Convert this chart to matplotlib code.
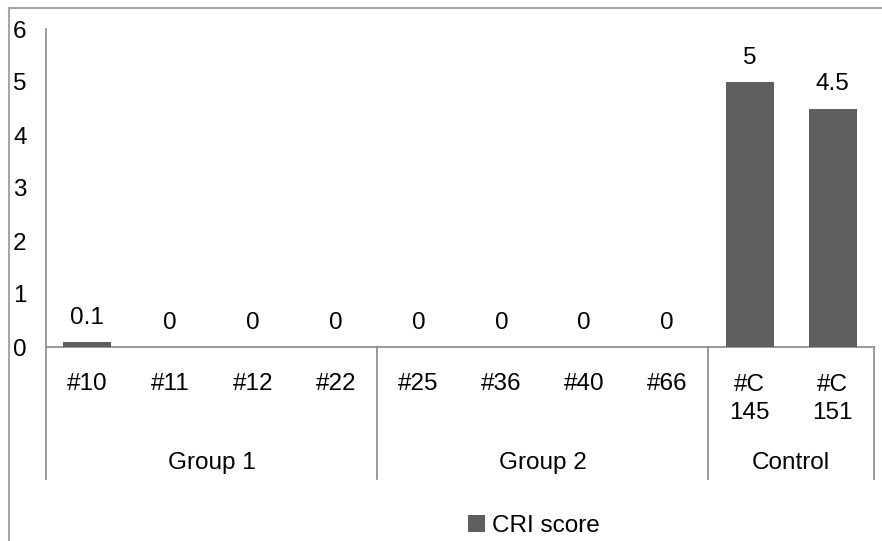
import matplotlib
matplotlib.use("Agg")
import matplotlib.pyplot as plt
from matplotlib.lines import Line2D

samples = ['#10', '#11', '#12', '#22', '#25', '#36', '#40', '#66', '#C\n145', '#C\n151']
scores = [0.1, 0, 0, 0, 0, 0, 0, 0, 5, 4.5]
score_labels = ['0.1', '0', '0', '0', '0', '0', '0', '0', '5', '4.5']
groups = ['Group 1', 'Group 2', 'Control']
group_sizes = [4, 4, 2]
yticks = [0, 1, 2, 3, 4, 5, 6]

plt.rcParams['font.family'] = ['Liberation Sans', 'DejaVu Sans']
FS = 17.5
BAR = '#5f5f5f'
AXC = '#878787'

W, H = 882, 541
fig = plt.figure(figsize=(W / 100, H / 100), dpi=100, facecolor='white')

# axes box in pixels: x 46..874, y (value 0) 347 .. (value 6) 29
x0, x1, y0, y1 = 46, 874, 347, 29
ax = fig.add_axes((x0 / W, 1 - y0 / H, (x1 - x0) / W, (y0 - y1) / H))

xs = list(range(len(samples)))
bars = ax.bar(xs, scores, width=0.58, color=BAR, label='CRI score', zorder=3)
ax.set_xlim(-0.5, len(samples) - 0.5)
ax.set_ylim(0, 6)

for s in ['top', 'right', 'left']:
    ax.spines[s].set_visible(False)
ax.spines['bottom'].set_color(AXC)
ax.spines['bottom'].set_linewidth(1.2)

ax.set_yticks(yticks)
ax.set_yticklabels([str(t) for t in yticks], fontsize=FS)
ax.tick_params(axis='y', length=0, pad=14)
ax.set_xticks([])

# data labels
for x, v, t in zip(xs, scores, score_labels):
    ax.annotate(t, xy=(x, v), xytext=(0, 24), textcoords='offset pixels',
                ha='center', va='center', fontsize=FS)

# category labels
for x, s in zip(xs, samples):
    off = -52 if '\n' in s else -37
    ax.annotate(s, xy=(x, 0), xycoords=('data', 'axes fraction'),
                xytext=(0, off), textcoords='offset pixels',
                ha='center', va='center', fontsize=FS, linespacing=1.38,
                annotation_clip=False)

# group labels and separators
bottom = -(479 - y0) / (y0 - y1)
trans = ax.get_xaxis_transform()
start = -0.5
ax.add_line(Line2D([start, start], [bottom, 1], transform=trans, color=AXC,
                   lw=1.2, clip_on=False))
for g, n in zip(groups, group_sizes):
    end = start + n
    ax.add_line(Line2D([end, end], [bottom, 0], transform=trans, color=AXC,
                       lw=1.2, clip_on=False))
    ax.annotate(g, xy=((start + end) / 2, 0), xycoords=('data', 'axes fraction'),
                xytext=(0, -116), textcoords='offset pixels',
                ha='center', va='center', fontsize=FS, annotation_clip=False)
    start = end

# legend
fig.legend(handles=[bars], labels=['CRI score'], loc='center',
           bbox_to_anchor=(534 / W, 1 - 526 / H), frameon=False, fontsize=FS,
           handlelength=0.7, handleheight=0.7, handletextpad=0.3)

# chart area frame (only top/left visible in the crop)
fig.add_artist(Line2D([9 / W, 1], [1 - 7.5 / H, 1 - 7.5 / H], transform=fig.transFigure,
                      color='#a6a6a6', lw=1.5))
fig.add_artist(Line2D([9 / W, 9 / W], [0, 1 - 7.5 / H], transform=fig.transFigure,
                      color='#a6a6a6', lw=1.5))

fig.savefig('out.png', dpi=100, facecolor='white')
